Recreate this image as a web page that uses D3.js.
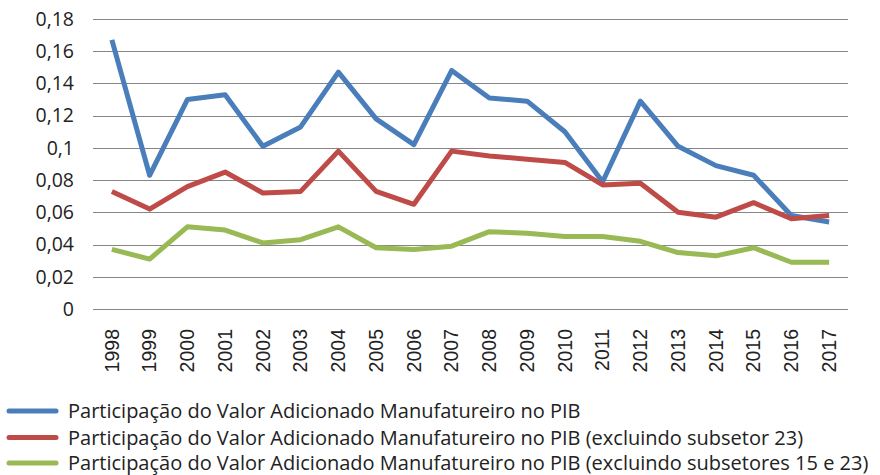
<!DOCTYPE html>
<html><head><meta charset="utf-8">
<script src="https://cdn.jsdelivr.net/npm/d3@7"></script>
<style>body{margin:0;background:#fff;} svg{display:block;font-family:"Open Sans",sans-serif;}</style>
</head><body>
<svg id="c" width="880" height="475"></svg>
<script>
const years = ["1998","1999","2000","2001","2002","2003","2004","2005","2006","2007","2008","2009","2010","2011","2012","2013","2014","2015","2016","2017"];
const total = [0.167,0.083,0.130,0.133,0.101,0.113,0.147,0.118,0.102,0.148,0.131,0.129,0.110,0.079,0.129,0.101,0.089,0.083,0.058,0.054];
const excl23 = [0.073,0.062,0.076,0.085,0.072,0.073,0.098,0.073,0.065,0.098,0.095,0.093,0.091,0.077,0.078,0.060,0.057,0.066,0.056,0.058];
const excl1523 = [0.037,0.031,0.051,0.049,0.041,0.043,0.051,0.038,0.037,0.039,0.048,0.047,0.045,0.045,0.042,0.035,0.033,0.038,0.029,0.029];
const yTicks = [0,0.02,0.04,0.06,0.08,0.1,0.12,0.14,0.16,0.18];
const seriesNames = ["Participação do Valor Adicionado Manufatureiro no PIB","Participação do Valor Adicionado Manufatureiro no PIB (excluindo subsetor 23)","Participação do Valor Adicionado Manufatureiro no PIB (excluindo subsetores 15 e 23)"];
const colors = ["#4A7EBB","#BE4B48","#98B954"];

const svg = d3.select("#c");
const x = d3.scaleBand().domain(years).range([93,848]);
const y = d3.scaleLinear().domain([0,0.18]).range([309,19]);
const fmt = d => String(d).replace(".", ",");

// gridlines
svg.append("g").selectAll("line").data(yTicks).join("line")
  .attr("x1",93).attr("x2",848).attr("y1",d=>Math.round(y(d))+0.5).attr("y2",d=>Math.round(y(d))+0.5)
  .attr("stroke","#868686").attr("stroke-width",1.2);

// y labels
svg.append("g").selectAll("text").data(yTicks).join("text")
  .attr("x",74).attr("y",d=>y(d)).attr("dy","0.35em").attr("text-anchor","end")
  .attr("font-size",19.5).attr("fill","#222").text(fmt);

// x labels
svg.append("g").selectAll("text").data(years).join("text")
  .attr("transform",d=>`translate(${x(d)+x.bandwidth()/2},329) rotate(-90)`)
  .attr("dy","0.35em").attr("text-anchor","end")
  .attr("font-family","'Liberation Sans',Arial,sans-serif")
  .attr("font-size",19.5).attr("fill","#222").text(d=>d);

const line = d3.line().x((d,i)=>x(years[i])+x.bandwidth()/2).y(d=>y(d));
[total,excl23,excl1523].forEach((s,k)=>{
  svg.append("path").datum(s).attr("d",line).attr("fill","none")
    .attr("stroke",colors[k]).attr("stroke-width",5).attr("stroke-linejoin","round");
});

// legend
const lg = svg.append("g");
const rowsY = [411,437.5,463];
seriesNames.forEach((n,k)=>{
  lg.append("line").attr("x1",9).attr("x2",56).attr("y1",rowsY[k]).attr("y2",rowsY[k])
    .attr("stroke",colors[k]).attr("stroke-width",5).attr("stroke-linecap","round");
  lg.append("text").attr("x",68).attr("y",rowsY[k]).attr("dy","0.35em")
    .attr("font-size",20).attr("fill","#222").text(n);
});
</script>
</body></html>
